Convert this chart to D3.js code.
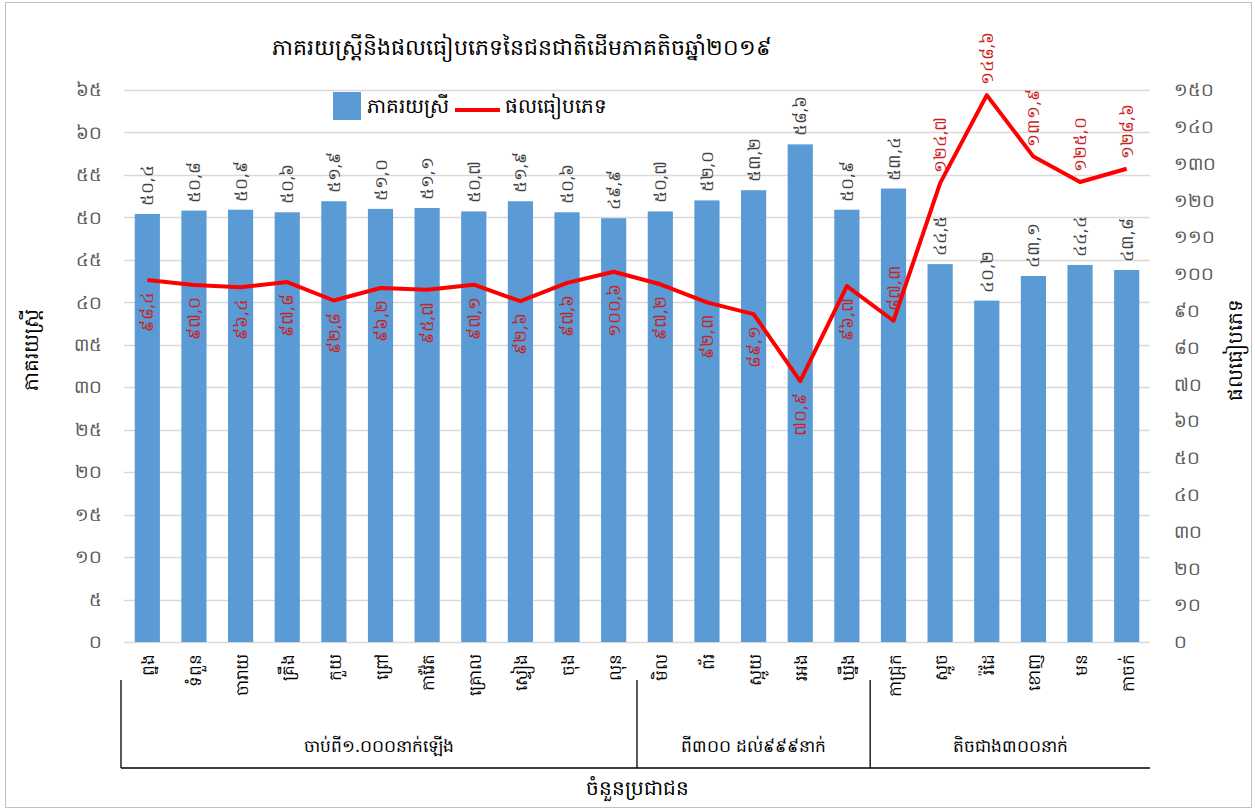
<!DOCTYPE html>
<html>
<head>
<meta charset="utf-8">
<script src="https://cdn.jsdelivr.net/npm/d3@7"></script>
<style>
  body { margin: 0; background: #fff; }
  svg { font-family: "Noto Sans", "DejaVu Sans", sans-serif; }
</style>
</head>
<body>
<div class="container"></div>
<script>
// ethnic groups, in chart order
const groups = ["ព្នង", "ទំពួន", "ចារាយ", "គ្រឹង", "កួយ", "ព្រៅ", "កាវ៉ែត", "គ្រោល", "ស្ទៀង", "ចុង", "លុន",
                "មិល", "ព័រ", "ស្អូយ", "រអង", "ឃ្នឹង",
                "កាជ្រុក", "ស្អូច", "រ៉ដែ", "ខោញ", "មន", "កាចក់"];
// % women
const womenPct = [50.4, 50.8, 50.9, 50.6, 51.9, 51.0, 51.1, 50.7, 51.9, 50.6, 49.9,
                  50.7, 52.0, 53.2, 58.6, 50.9,
                  53.4, 44.5, 40.2, 43.1, 44.4, 43.8];
// sex ratio
const sexRatio = [98.4, 97.0, 96.4, 97.8, 92.8, 96.2, 95.7, 97.1, 92.6, 97.6, 100.6,
                  97.2, 92.3, 89.1, 70.9, 96.7,
                  87.3, 124.7, 148.6, 131.9, 125.0, 128.6];
// population size classes
const sizeClasses = ["ចាប់ពី១.០០០នាក់ឡើង", "ពី៣០០ ដល់៩៩៩នាក់", "តិចជាង៣០០នាក់"];
const classCounts = [11, 5, 6];
const leftTicks = d3.range(0, 66, 5);
const rightTicks = d3.range(0, 151, 10);

const W = 1255, H = 811;
const plot = {left: 124, right: 1150, top: 90, bottom: 642};

const khDigits = "០១២៣៤៥៦៧៨៩";
const kh = s => String(s).replace(/[0-9]/g, c => khDigits[+c]);
const khDec = v => kh(v.toFixed(1).replace(".", ","));

const svg = d3.select(".container")
  .append("svg")
    .attr("width", W)
    .attr("height", H);

// chart frame
svg.append("rect")
  .attr("x", 5.5).attr("y", 2.5)
  .attr("width", W - 9).attr("height", H - 6)
  .attr("fill", "none").attr("stroke", "#bfbfbf");

const x = d3.scaleBand()
  .domain(groups)
  .range([plot.left, plot.right])
  .paddingInner(0.46).paddingOuter(0.23);

const yL = d3.scaleLinear().domain([0, 65]).range([plot.bottom, plot.top]);
const yR = d3.scaleLinear().domain([0, 150]).range([plot.bottom, plot.top]);

// gridlines
svg.append("g")
  .selectAll("line")
  .data(leftTicks)
  .join("line")
    .attr("x1", plot.left).attr("x2", plot.right)
    .attr("y1", d => Math.round(yL(d)) + 0.5)
    .attr("y2", d => Math.round(yL(d)) + 0.5)
    .attr("stroke", "#d9d9d9")
    .attr("stroke-width", 1.5);

// left axis
const axL = svg.append("g")
  .attr("transform", "translate(" + plot.left + ",0)")
  .call(d3.axisLeft(yL).tickValues(leftTicks).tickSize(0).tickPadding(22).tickFormat(kh));
axL.select(".domain").remove();
axL.selectAll("text").attr("font-size", 18).attr("fill", "#595959");

// right axis
const axR = svg.append("g")
  .attr("transform", "translate(" + plot.right + ",0)")
  .call(d3.axisRight(yR).tickValues(rightTicks).tickSize(0).tickPadding(24).tickFormat(kh));
axR.select(".domain").remove();
axR.selectAll("text").attr("font-size", 18).attr("fill", "#595959");

// bars
svg.append("g")
  .selectAll("rect")
  .data(womenPct)
  .join("rect")
    .attr("x", (d, i) => x(groups[i]))
    .attr("y", d => yL(d))
    .attr("width", x.bandwidth())
    .attr("height", d => yL(0) - yL(d))
    .attr("fill", "#5b9bd5");

// bar labels
svg.append("g")
  .selectAll("text")
  .data(womenPct)
  .join("text")
    .attr("transform", (d, i) => "translate(" + (x(groups[i]) + x.bandwidth() / 2 + 6) + "," + (yL(d) - 8) + ") rotate(-90)")
    .attr("font-size", 17)
    .attr("fill", "#404040")
    .text(d => khDec(d));

// sex ratio line
const line = d3.line()
  .x((d, i) => x(groups[i]) + x.bandwidth() / 2)
  .y(d => yR(d));

svg.append("path")
  .datum(sexRatio)
  .attr("d", line)
  .attr("fill", "none")
  .attr("stroke", "#ff0000")
  .attr("stroke-width", 4)
  .attr("stroke-linejoin", "round");

// line labels: below the point for the first groups, above for the small ones
svg.append("g")
  .selectAll("text")
  .data(sexRatio)
  .join("text")
    .attr("transform", (d, i) => {
      const cx = x(groups[i]) + x.bandwidth() / 2 + 6;
      return i < 16
        ? "translate(" + cx + "," + (yR(d) + 12) + ") rotate(-90)"
        : "translate(" + cx + "," + (yR(d) - 10) + ") rotate(-90)";
    })
    .attr("text-anchor", (d, i) => i < 16 ? "end" : "start")
    .attr("font-size", 17)
    .attr("fill", "#c9211e")
    .text(d => khDec(d));

// category labels
svg.append("g")
  .selectAll("text")
  .data(groups)
  .join("text")
    .attr("transform", d => "translate(" + (x(d) + x.bandwidth() / 2 + 7) + "," + (plot.bottom + 12) + ") rotate(-90)")
    .attr("text-anchor", "end")
    .attr("font-size", 17)
    .attr("fill", "#000")
    .text(d => d);

// multi-level axis
const step = x.step();
let start = 0;
const bounds = [];
classCounts.forEach((n, k) => {
  bounds.push({from: start, to: start + n, label: sizeClasses[k]});
  start += n;
});
const edgeX = i => plot.left + i * step - (i === 0 ? 3 : 0);
const axisBottom = 768;

svg.append("g")
  .selectAll("line")
  .data(bounds.slice(0, -1).map(b => b.to).concat([0]))
  .join("line")
    .attr("x1", d => edgeX(d)).attr("x2", d => edgeX(d))
    .attr("y1", 680)
    .attr("y2", axisBottom)
    .attr("stroke", "#000").attr("stroke-width", 1.3);

svg.append("line")
  .attr("x1", edgeX(0)).attr("x2", plot.right)
  .attr("y1", axisBottom).attr("y2", axisBottom)
  .attr("stroke", "#000").attr("stroke-width", 1.3);

svg.append("g")
  .selectAll("text")
  .data(bounds)
  .join("text")
    .attr("x", d => (edgeX(d.from) + edgeX(d.to)) / 2)
    .attr("y", 752)
    .attr("text-anchor", "middle")
    .attr("font-size", 17)
    .text(d => d.label);

// axis titles
svg.append("text")
  .attr("x", 637).attr("y", 795)
  .attr("text-anchor", "middle")
  .attr("font-size", 20)
  .text("ចំនួនប្រជាជន");

svg.append("text")
  .attr("transform", "translate(38,350) rotate(-90)")
  .attr("text-anchor", "middle")
  .attr("font-size", 20)
  .text("ភាគរយស្ត្រី");

svg.append("text")
  .attr("transform", "translate(1242,350) rotate(-90)")
  .attr("text-anchor", "middle")
  .attr("font-size", 20)
  .text("ផលធៀបភេទ");

// title
svg.append("text")
  .attr("x", 522).attr("y", 55)
  .attr("text-anchor", "middle")
  .attr("font-size", 22)
  .text("ភាគរយស្ត្រីនិងផលធៀបភេទនៃជនជាតិដើមភាគតិចឆ្នាំ២០១៩");

// legend
const legend = svg.append("g").attr("transform", "translate(333,105)");
legend.append("rect")
  .attr("x", 0).attr("y", -13)
  .attr("width", 28).attr("height", 28)
  .attr("fill", "#5b9bd5");
legend.append("text")
  .attr("x", 34).attr("y", 8)
  .attr("font-size", 20)
  .text("ភាគរយស្រី");
legend.append("line")
  .attr("x1", 122).attr("x2", 167)
  .attr("y1", 5).attr("y2", 5)
  .attr("stroke", "#ff0000").attr("stroke-width", 4);
legend.append("text")
  .attr("x", 172).attr("y", 8)
  .attr("font-size", 20)
  .text("ផលធៀបភេទ");
</script>
</body>
</html>
